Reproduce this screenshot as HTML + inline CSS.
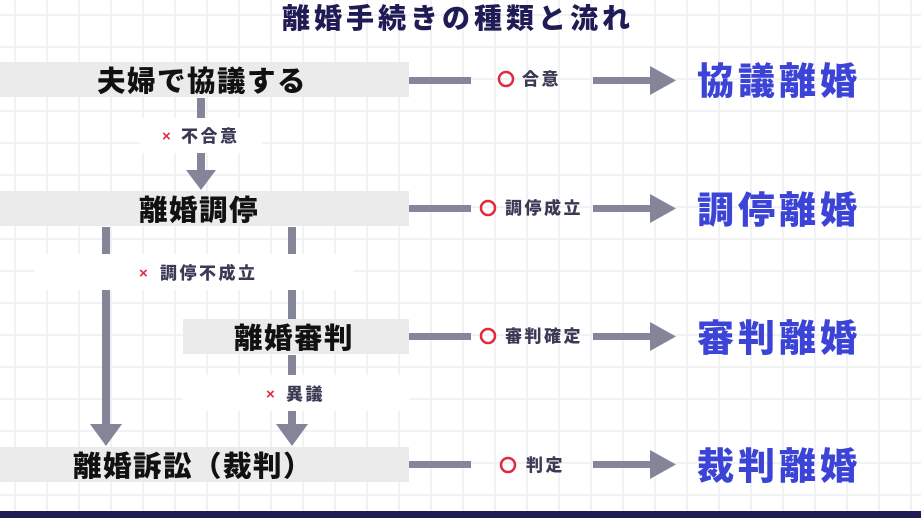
<!DOCTYPE html>
<html><head><meta charset="utf-8"><style>
body{margin:0;width:921px;height:518px;overflow:hidden;background:#fff}
svg{display:block}
text{font-family:"Liberation Sans","Noto Sans CJK JP",sans-serif;font-weight:900}
</style></head><body>
<svg width="921" height="518" viewBox="0 0 921 518" xmlns="http://www.w3.org/2000/svg">
<defs>
<pattern id="g" x="14" y="14" width="32" height="32" patternUnits="userSpaceOnUse">
<rect x="0" y="0" width="2" height="32" fill="#f2f2f4"/><rect x="0" y="0" width="32" height="2" fill="#f2f2f4"/>
</pattern>
</defs>
<rect width="921" height="518" fill="url(#g)"/>
<text x="282" y="28" font-size="28" fill="#1e1b55" letter-spacing="4">離婚手続きの種類と流れ</text>

<rect x="0" y="62" width="409" height="35" fill="#ebebeb"/>
<text x="97" y="91" font-size="28.5" fill="#111" letter-spacing="1.5">夫婦で協議する</text>
<rect x="0" y="191" width="409" height="35" fill="#ebebeb"/>
<text x="139" y="220" font-size="28.5" fill="#111" letter-spacing="1.5">離婚調停</text>
<rect x="183" y="319" width="226" height="35" fill="#ebebeb"/>
<text x="234" y="348" font-size="28.5" fill="#111" letter-spacing="1.5">離婚審判</text>
<rect x="0" y="447" width="409" height="35" fill="#ebebeb"/>
<text x="73" y="476" font-size="28.5" fill="#111" letter-spacing="1.5">離婚訴訟（裁判）</text>

<g fill="#858599">
<rect x="197" y="98" width="8" height="20"/>
<rect x="197" y="153" width="8" height="20"/>
<path d="M186 170 H216 L201 190 Z"/>
<rect x="102" y="227" width="8" height="27"/>
<rect x="288" y="227" width="8" height="27"/>
<rect x="102" y="290" width="8" height="137"/>
<path d="M90 424 H122 L106 446 Z"/>
<rect x="288" y="290" width="8" height="29"/>
<rect x="288" y="355" width="8" height="20"/>
<rect x="288" y="411" width="8" height="16"/>
<path d="M276 424 H308 L292 446 Z"/>
</g>
<rect x="140" y="118" width="122" height="35" fill="#fff"/>
<text x="162" y="141" font-size="15" fill="#e0293e" font-weight="normal">×</text>
<text x="181" y="142" font-size="17" fill="#3a3a55" letter-spacing="2.5">不合意</text>
<rect x="35" y="254" width="318" height="36" fill="#fff"/>
<text x="139" y="278" font-size="15" fill="#e0293e" font-weight="normal">×</text>
<text x="160" y="279" font-size="17" fill="#3a3a55" letter-spacing="2.5">調停不成立</text>
<rect x="183" y="375" width="226" height="36" fill="#fff"/>
<text x="266" y="399" font-size="15" fill="#e0293e" font-weight="normal">×</text>
<text x="286" y="400" font-size="17" fill="#3a3a55" letter-spacing="2.5">異議</text>

<g fill="#858599">
<rect x="409" y="77" width="62" height="7"/><rect x="593" y="77" width="60" height="7"/><path d="M650 66 L676 80.5 L650 95 Z"/>
<rect x="409" y="205" width="62" height="7"/><rect x="593" y="205" width="60" height="7"/><path d="M650 194 L676 208.5 L650 223 Z"/>
<rect x="409" y="333" width="62" height="7"/><rect x="593" y="333" width="60" height="7"/><path d="M650 322 L676 336.5 L650 351 Z"/>
<rect x="409" y="461" width="62" height="7"/><rect x="593" y="461" width="60" height="7"/><path d="M650 450 L676 464.5 L650 479 Z"/>
</g>
<g fill="none" stroke="#e0293e" stroke-width="2.5">
<circle cx="506" cy="79" r="7"/><circle cx="488" cy="208" r="7"/><circle cx="488" cy="336" r="7"/><circle cx="508" cy="465" r="7"/>
</g>
<g font-size="17" fill="#3a3a55" letter-spacing="2.5">
<text x="522" y="85">合意</text>
<text x="505" y="214">調停成立</text>
<text x="505" y="342">審判確定</text>
<text x="526" y="471">判定</text>
</g>
<g font-size="37" fill="#3b44d6" letter-spacing="4">
<text x="697" y="94">協議離婚</text>
<text x="697" y="223">調停離婚</text>
<text x="697" y="351">審判離婚</text>
<text x="697" y="479">裁判離婚</text>
</g>
<rect x="0" y="511" width="921" height="7" fill="#1e1b55"/>
</svg>
</body></html>
